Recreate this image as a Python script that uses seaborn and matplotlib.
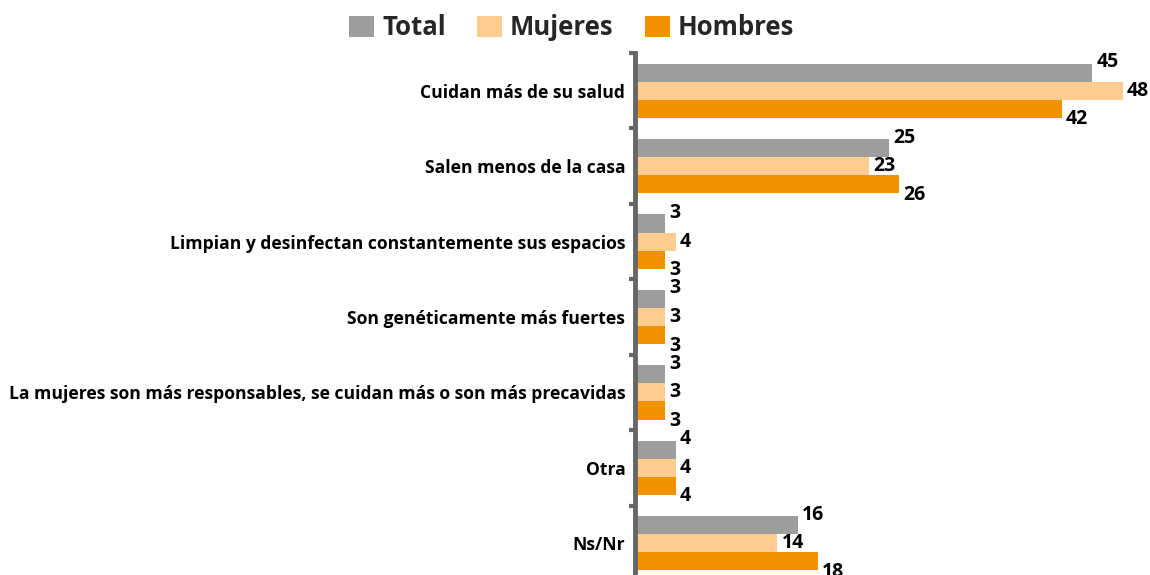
import pandas as pd
import matplotlib.pyplot as plt
import seaborn as sns
from matplotlib.ticker import FixedLocator

categorias = [
    "Cuidan más de su salud",
    "Salen menos de la casa",
    "Limpian y desinfectan constantemente sus espacios",
    "Son genéticamente más fuertes",
    "La mujeres son más responsables, se cuidan más o son más precavidas",
    "Otra",
    "Ns/Nr",
]
series = ["Total", "Mujeres", "Hombres"]
total = [45, 25, 3, 3, 3, 4, 16]
mujeres = [48, 23, 4, 3, 3, 4, 14]
hombres = [42, 26, 3, 3, 3, 4, 18]
colores = ["#9d9d9c", "#fccd8f", "#f39200"]

df = pd.DataFrame({
    "categoria": categorias * 3,
    "serie": [s for s in series for _ in categorias],
    "valor": total + mujeres + hombres,
})

sns.set_style("white")
plt.rcParams["font.family"] = ["Open Sans", "DejaVu Sans"]

fig = plt.figure(figsize=(11.5, 5.75), dpi=100)
ax = fig.add_axes([635 / 1150, 1 - 581 / 575, 515 / 1150, 528 / 575])

sns.barplot(data=df, y="categoria", x="valor", hue="serie", order=categorias,
            hue_order=series, palette=colores, orient="h", width=0.72,
            saturation=1, errorbar=None, linewidth=0, ax=ax)

# etiquetas de valor: arriba, centro, abajo
offsets = [7.5, 0, -7.5]
for cont, dy in zip(ax.containers, offsets):
    for p in cont.patches:
        w = p.get_width()
        yc = p.get_y() + p.get_height() / 2
        ax.annotate(f"{w:.0f}", (w, yc), xytext=(3, dy), textcoords="offset points",
                    ha="left", va="center", fontsize=14, fontweight="bold", color="black")

ax.set_xlim(0, 50.7)
ax.set_ylim(6.5, -0.5)
ax.set_xlabel("")
ax.set_ylabel("")
ax.set_xticks([])
for s in ["top", "right", "bottom"]:
    ax.spines[s].set_visible(False)
ax.spines["left"].set_color("#666666")
ax.spines["left"].set_linewidth(3.5)
ax.yaxis.set_minor_locator(FixedLocator([i - 0.5 for i in range(8)]))
ax.tick_params(axis="y", which="major", length=0, pad=7, labelsize=12.6, labelcolor="black")
ax.tick_params(axis="y", which="minor", length=4, width=3, color="#666666", direction="out", left=True)
for t in ax.get_yticklabels():
    t.set_fontweight("bold")

handles, labels = ax.get_legend_handles_labels()
ax.get_legend().remove()
fig.legend(handles, labels, loc="upper center", bbox_to_anchor=(0.497, 1.0), ncol=3,
           frameon=False, prop={"size": 18.5, "weight": "bold"}, handlelength=1.0,
           handleheight=0.9, handletextpad=0.3, columnspacing=1.2, borderaxespad=0.15)

fig.savefig("out.png", dpi=100)
